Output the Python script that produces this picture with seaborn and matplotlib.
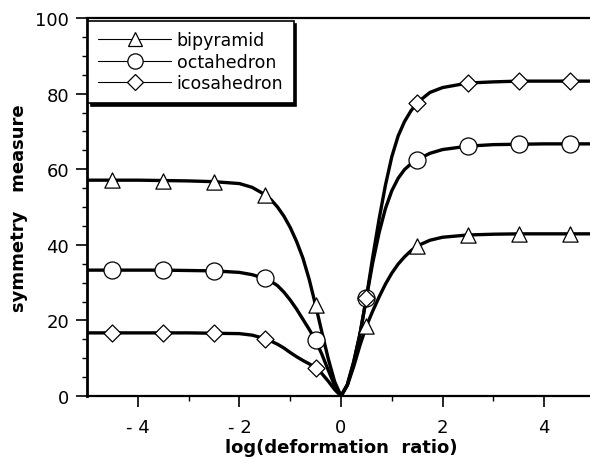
import matplotlib
matplotlib.use("Agg")
import matplotlib.pyplot as plt
from matplotlib.lines import Line2D
from matplotlib.ticker import MultipleLocator, FixedLocator
import seaborn as sns

# ---- data ----
x_line = [-5, -4.5, -4, -3.5, -3, -2.5, -2, -1.75, -1.5, -1.375, -1.25, -1.125, -1, -0.875,
          -0.75, -0.625, -0.5, -0.375, -0.25, -0.125, 0, 0.125, 0.25, 0.375, 0.5, 0.625, 0.75,
          0.875, 1, 1.125, 1.25, 1.375, 1.5, 1.75, 2, 2.5, 3, 3.5, 4, 4.5, 5]
bipyramid_line = [57.1, 57.1, 57.1, 57.0, 56.9, 56.7, 56.2, 55.2, 53.3, 51.9, 50.0, 47.6, 44.6, 40.9,
                  36.5, 30.8, 24.0, 16.8, 9.8, 3.8, 0.0, 2.8, 7.8, 13.5, 18.5, 22.5, 26.2,
                  29.6, 32.5, 34.9, 36.8, 38.4, 39.7, 41.2, 42.0, 42.6, 42.8, 42.9, 42.9, 42.9, 42.9]
octahedron_line = [33.3, 33.3, 33.3, 33.3, 33.2, 33.1, 32.7, 32.1, 31.1, 30.3, 29.2, 27.5, 25.4, 23.0,
                   20.3, 17.6, 14.7, 11.0, 6.8, 2.8, 0.0, 3.0, 9.0, 16.5, 26.0, 35.3, 43.2,
                   49.6, 54.3, 57.6, 59.9, 61.4, 62.5, 64.2, 65.2, 66.1, 66.5, 66.6, 66.7, 66.7, 66.7]
icosahedron_line = [16.7, 16.7, 16.7, 16.7, 16.7, 16.6, 16.5, 16.1, 15.2, 14.5, 13.7, 12.7, 11.5, 10.4,
                    9.4, 8.5, 7.5, 5.9, 3.9, 1.7, 0.0, 3.0, 9.0, 16.5, 26.0, 36.8, 46.8,
                    55.8, 63.3, 68.8, 72.6, 75.4, 77.6, 80.3, 81.6, 82.8, 83.1, 83.3, 83.3, 83.3, 83.3]

x_mark = [-4.5, -3.5, -2.5, -1.5, -0.5, 0.5, 1.5, 2.5, 3.5, 4.5]
bipyramid_mark = [57.1, 57.0, 56.7, 53.3, 24.0, 18.5, 39.7, 42.6, 42.9, 42.9]
octahedron_mark = [33.3, 33.3, 33.1, 31.1, 14.7, 26.0, 62.5, 66.1, 66.6, 66.7]
icosahedron_mark = [16.7, 16.7, 16.6, 15.2, 7.5, 26.0, 77.6, 82.8, 83.3, 83.3]

series_names = ["bipyramid", "octahedron", "icosahedron"]
x_ticks = [-4, -2, 0, 2, 4]
x_tick_labels = ["- 4", "- 2", "0", "2", "4"]
y_ticks = [0, 20, 40, 60, 80, 100]

# ---- style ----
sns.set_theme(style="ticks")
plt.rcParams["font.family"] = ["DejaVu Sans"]
plt.rcParams["text.color"] = "black"

fig = plt.figure(figsize=(5.9, 4.6), dpi=100)
ax = fig.add_axes([87 / 590, 63 / 460, 508 / 590, 378 / 460])

lines = [bipyramid_line, octahedron_line, icosahedron_line]
marks = [bipyramid_mark, octahedron_mark, icosahedron_mark]
markers = ["^", "o", "D"]
sizes = [120, 150, 75]

for yl, ym, mk, sz in zip(lines, marks, markers, sizes):
    sns.lineplot(x=x_line, y=yl, ax=ax, color="black", linewidth=2.4, zorder=2)
    sns.scatterplot(x=x_mark, y=ym, ax=ax, marker=mk, s=sz, facecolor="white",
                    edgecolor="black", linewidth=0.9, zorder=3)

ax.set_xlim(-5, 5)
ax.set_ylim(0, 100)
ax.set_xticks(x_ticks)
ax.set_xticklabels(x_tick_labels)
ax.set_yticks(y_ticks)
ax.xaxis.set_minor_locator(FixedLocator([-3, -1, 1, 3]))
ax.yaxis.set_minor_locator(MultipleLocator(5))
ax.tick_params(axis="both", which="major", direction="out", length=8, width=1.2,
               labelsize=13, color="black", labelcolor="black")
ax.tick_params(axis="both", which="minor", direction="out", length=3.5, width=1.0, color="black")
ax.tick_params(axis="x", which="major", pad=8)
ax.tick_params(axis="y", which="major", pad=5)

for side in ["left", "bottom", "top"]:
    ax.spines[side].set_color("black")
ax.spines["left"].set_linewidth(2.0)
ax.spines["bottom"].set_linewidth(1.6)
ax.spines["top"].set_linewidth(1.6)
ax.spines["right"].set_visible(False)

ax.set_xlabel("log(deformation  ratio)", fontsize=13, fontweight="bold", labelpad=1, color="black")
ax.set_ylabel("symmetry   measure", fontsize=13, fontweight="bold", labelpad=5, color="black")

handles = [
    Line2D([], [], color="black", lw=0.8, marker="^", markersize=10, mfc="white", mec="black", mew=0.9),
    Line2D([], [], color="black", lw=0.8, marker="o", markersize=11, mfc="white", mec="black", mew=0.9),
    Line2D([], [], color="black", lw=0.8, marker="D", markersize=8, mfc="white", mec="black", mew=0.9),
]
leg = ax.legend(handles, series_names, loc="upper left", bbox_to_anchor=(0.002, 0.992),
                borderaxespad=0, fontsize=12.5, handlelength=4.2, handletextpad=0.3,
                labelspacing=0.2, frameon=True, fancybox=False, framealpha=1,
                edgecolor="black", shadow={"color": "black", "alpha": 1.0},
                borderpad=0.6, labelcolor="black")
leg.get_frame().set_linewidth(1.2)

fig.savefig("out.png", dpi=100)
